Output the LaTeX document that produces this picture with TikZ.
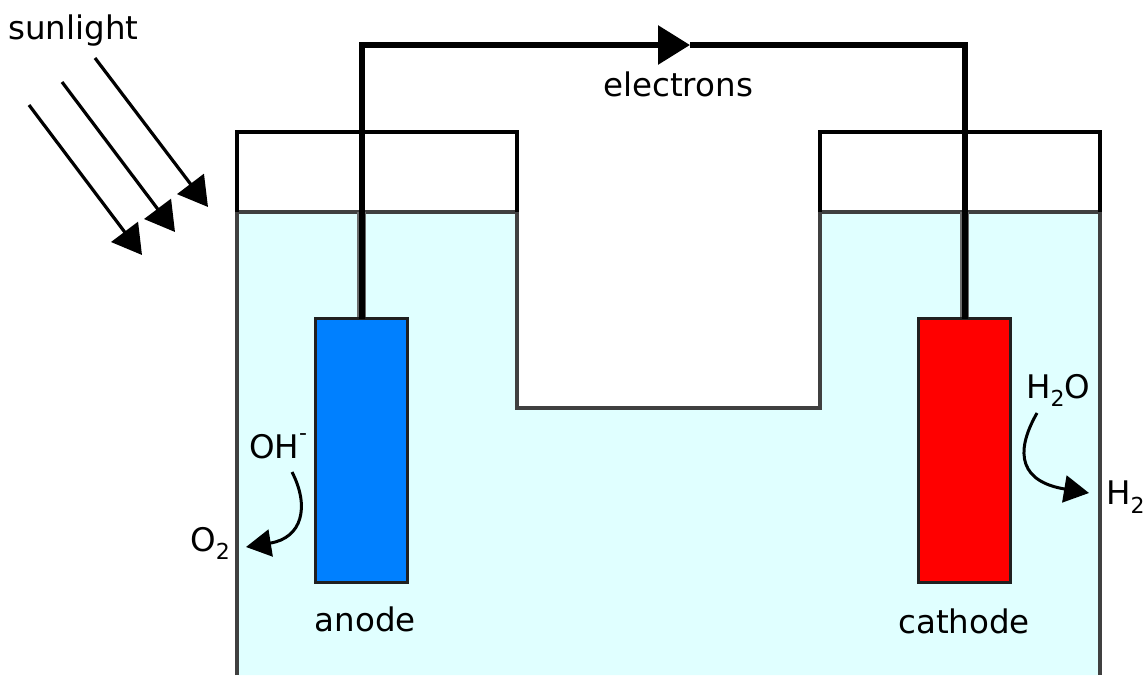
\documentclass[tikz,border=0pt]{standalone}
\usepackage{fontspec}
\setmainfont{DejaVu Sans}
\usetikzlibrary{arrows.meta, positioning}
\definecolor{cwater}{HTML}{E0FFFF}
\definecolor{canode}{HTML}{0080FF}
\definecolor{ccathode}{HTML}{FF0000}
\definecolor{cedge}{HTML}{6B6B6B}
\newcommand{\subtwo}{\raisebox{-0.27em}{\fontsize{22}{22}\selectfont 2}}
\tikzset{
  every picture/.style={x=1pt, y=-1pt, font=\fontsize{32.5}{36}\selectfont},
  electrode/.style={draw=#1!70!cedge, minimum width=92pt, minimum height=264pt, inner sep=0pt, outer sep=0pt, line width=3pt, anchor=north west},
  label/.style={inner sep=0pt, anchor=base west},
  wall/.style={draw=black, line width=3.4pt, line join=miter},
  rim/.style={draw=black!75, line width=4pt},
  wire/.style={draw=black, line width=6pt},
  halo/.style={draw=cedge, line width=9pt},
  ray/.style={draw=black, line width=3.2pt, -{Triangle[length=29pt, width=33pt]}},
  flow/.style={draw=black, line width=3pt, -{Triangle[length=25pt, width=27pt]}},
}

\begin{document}
\begin{tikzpicture}
  \useasboundingbox (0,0) rectangle (1145,675);
  % electrolyte
  \fill[cwater] (237,212) -- (517,212) -- (517,408) -- (820,408) -- (820,212) -- (1100,212) -- (1100,675) -- (237,675) -- cycle;
  \draw[rim] (237,675) -- (237,212) -- (517,212) -- (517,408) -- (820,408) -- (820,212) -- (1100,212) -- (1100,675);
  % lids
  \draw[wall] (237,212) -- (237,132) -- (517,132) -- (517,212);
  \draw[wall] (820,212) -- (820,132) -- (1100,132) -- (1100,212);

  \draw[halo] (361.5,212) -- (361.5,318);
  \draw[halo] (964.5,212) -- (964.5,318);

  \node[electrode=black, fill=canode] (anode) at (315.5,318.5) {};
  \node[electrode=black, fill=ccathode] (cathode) at (918.5,318.5) {};

  % external circuit
  \coordinate (wirehead) at (690,45);
  \draw[wire, -{Triangle[length=32pt, width=38pt]}] (anode.north) |- (wirehead);
  \draw[wire] (wirehead) -| (cathode.north);

  \node[label] (electrons) at (603,96) {electrons};
  \node[label] (sunlight) at (8,39) {sunlight};
  \node[label] (anodetext) at (314.5,631) {anode};
  \node[label] (cathodetext) at (898,633) {cathode};
  \node[label] (hydroxide) at (249,458) {OH\raisebox{0.55em}{\fontsize{22}{22}\selectfont -}};
  \node[label] (oxygen) at (190,551) {O\subtwo};
  \node[label] (water) at (1026,398) {H\subtwo O};
  \node[label] (hydrogen) at (1106,504.5) {H\subtwo};

  % sun rays
  \coordinate (rayA) at (29,105);
  \coordinate (rayB) at (62,82);
  \coordinate (rayC) at (95,58);
  \coordinate (tipA) at (142,255);
  \coordinate (tipB) at (175,232);
  \coordinate (tipC) at (208,207);
  \draw[ray] (rayA) -- (tipA);
  \draw[ray] (rayB) -- (tipB);
  \draw[ray] (rayC) -- (tipC);

  % reactions
  \coordinate (tipO) at (246,547);
  \coordinate (tipH) at (1089,493);
  \draw[flow] (292,472) .. controls (310,507) and (302,538) .. (tipO);
  \draw[flow] (1037,413) .. controls (1013,455) and (1022,482) .. (tipH);
\end{tikzpicture}
\end{document}
